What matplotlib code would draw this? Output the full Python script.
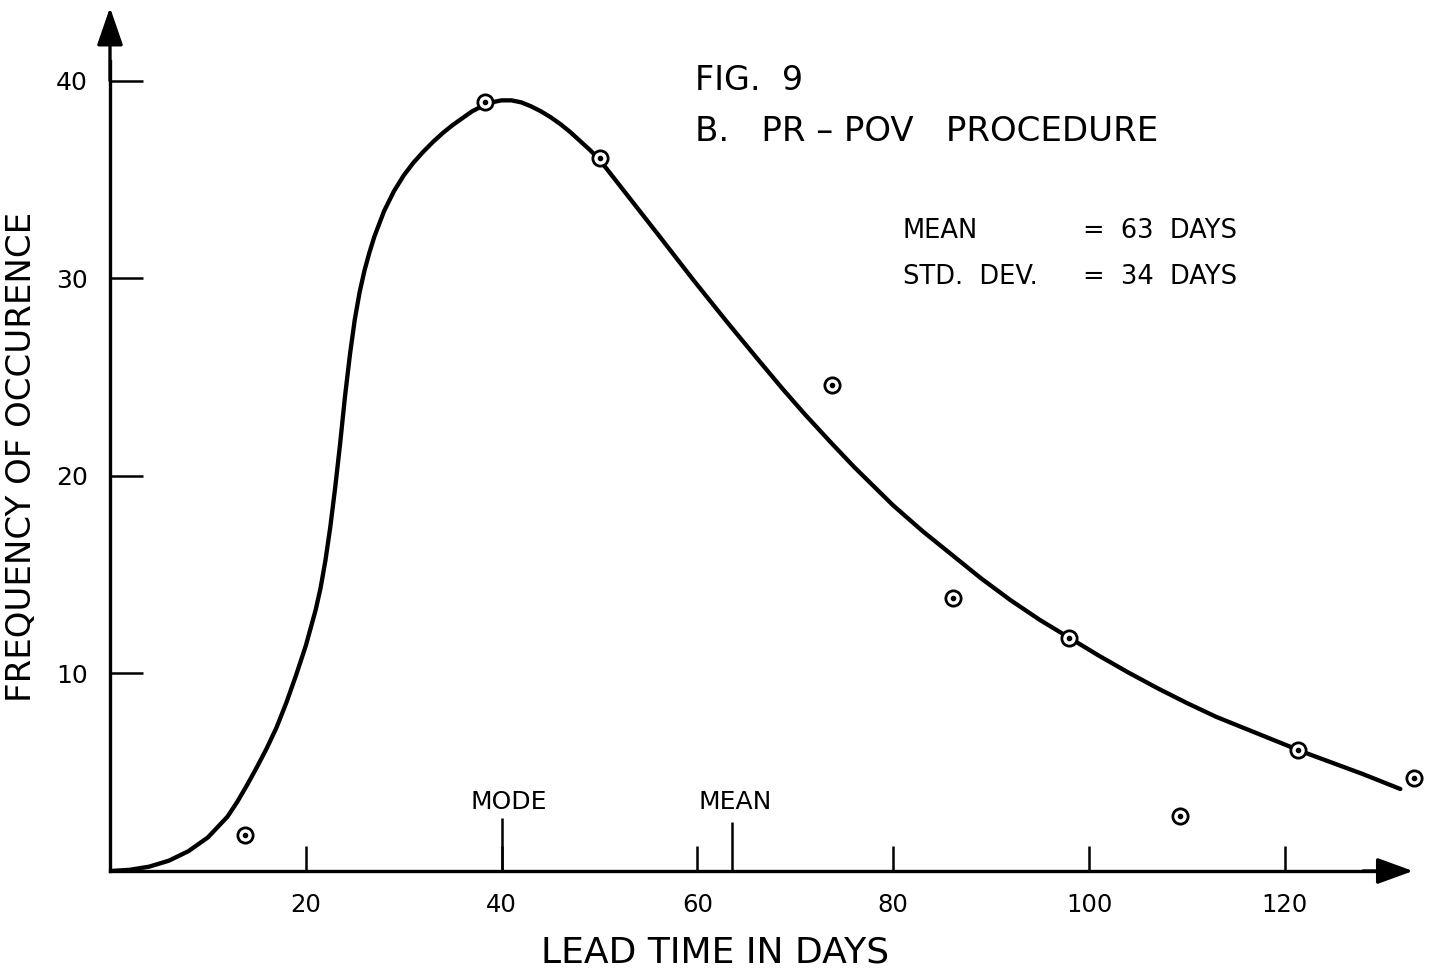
import numpy as np
import matplotlib
matplotlib.use("Agg")
import matplotlib.pyplot as plt

plt.rcParams['font.family'] = ['DejaVu Sans']

# fitted curve (lead time in days, frequency)
curve_x = [0, 2, 4, 6, 8, 10, 12, 13, 14, 15, 16, 17, 18, 19, 20, 21, 21.5, 22, 22.5,
           23, 23.5, 24, 24.5, 25, 25.5, 26, 26.5, 27, 28, 29, 30, 31, 32, 33, 34, 35,
           36, 37, 38, 39, 40, 41, 42, 43, 44, 45, 46, 47, 48, 49, 50, 53, 56, 59.6,
           63, 66, 68.7, 71, 73.7, 76, 80, 83, 86, 89, 92, 95, 98, 101, 104, 107, 110,
           113, 116, 119, 122, 125, 128, 131.8]
curve_y = [0, 0.06, 0.22, 0.52, 1.0, 1.7, 2.75, 3.5, 4.35, 5.25, 6.2, 7.25, 8.5, 9.9, 11.4,
           13.2, 14.3, 15.7, 17.4, 19.4, 21.6, 24.0, 26.1, 27.9, 29.3, 30.4, 31.3, 32.1,
           33.4, 34.4, 35.2, 35.85, 36.4, 36.9, 37.35, 37.75, 38.1, 38.45, 38.7, 38.9,
           39.0, 39.0, 38.9, 38.7, 38.45, 38.15, 37.8, 37.4, 36.95, 36.5, 36.0, 34.1, 32.2,
           29.9, 27.8, 26.0, 24.4, 23.1, 21.65, 20.45, 18.5, 17.2, 16.0, 14.8, 13.7, 12.7,
           11.8, 10.9, 10.05, 9.25, 8.5, 7.8, 7.2, 6.6, 6.0, 5.45, 4.9, 4.15]

# observed frequencies
obs_x = [13.8, 38.3, 50.0, 73.7, 86.1, 98.0, 109.3, 121.3, 133.2]
obs_y = [1.8, 38.9, 36.1, 24.6, 13.8, 11.8, 2.8, 6.1, 4.7]

xticks = [20, 40, 60, 80, 100, 120]
yticks = [10, 20, 30, 40]
mode_day = 40
mean_day = 63.5
stats = [('MEAN', '=  63  DAYS'), ('STD.  DEV.', '=  34  DAYS')]

fig = plt.figure(figsize=(14.36, 9.72), dpi=100)
ax = fig.add_axes([0.0766, 0.1039, 0.9272, 0.8945])
ax.set_xlim(0, 136)
ax.set_ylim(0, 44)

for s in ['top', 'right']:
    ax.spines[s].set_visible(False)
for s in ['left', 'bottom']:
    ax.spines[s].set_linewidth(2.4)
ax.spines['bottom'].set_bounds(0, 131)
ax.spines['left'].set_bounds(0, 41)

# arrow heads on the axes
ax.annotate('', xy=(133.1, 0), xytext=(128, 0), annotation_clip=False,
            arrowprops=dict(arrowstyle='-|>,head_length=0.55,head_width=0.2',
                            mutation_scale=40, color='k', lw=2.4, shrinkA=0, shrinkB=0))
ax.annotate('', xy=(0, 43.7), xytext=(0, 40), annotation_clip=False,
            arrowprops=dict(arrowstyle='-|>,head_length=0.58,head_width=0.2',
                            mutation_scale=40, color='k', lw=2.4, shrinkA=0, shrinkB=0))

ax.set_xticks(xticks)
ax.set_yticks(yticks)
ax.tick_params(axis='x', direction='in', length=18, width=1.8, pad=16, labelsize=17.5)
ax.tick_params(axis='y', direction='in', length=24, width=1.8, pad=16, labelsize=18)

# mode / mean markers
ax.vlines([mode_day, mean_day], 0, [2.7, 2.5], colors='k', lw=1.8)
ax.text(mode_day + 0.7, 3.5, 'MODE', ha='center', va='center', fontsize=18)
ax.text(mean_day + 0.4, 3.5, 'MEAN', ha='center', va='center', fontsize=18)

ax.plot(curve_x, curve_y, color='k', lw=3.1, solid_capstyle='round',
        solid_joinstyle='round', zorder=2)
ax.plot(obs_x, obs_y, 'o', ms=11, mfc='white', mec='k', mew=2.0, clip_on=False, zorder=3)
ax.plot(obs_x, obs_y, 'o', ms=3, color='k', clip_on=False, zorder=4)

ax.text(59.8, 40.0, 'FIG.  9', fontsize=24, va='center')
ax.text(59.8, 37.4, 'B.   PR – POV   PROCEDURE', fontsize=24.5, va='center')
for i, (lbl, val) in enumerate(stats):
    yy = 32.4 - i * 2.35
    ax.text(81.0, yy, lbl, fontsize=18.5, va='center')
    ax.text(99.4, yy, val, fontsize=18.5, va='center')

fig.text(22 / 1436, 1 - 457 / 972, 'FREQUENCY OF OCCURENCE', rotation=90,
         ha='center', va='center', fontsize=24.5)
fig.text(715 / 1436, 1 - 952 / 972, 'LEAD TIME IN DAYS', ha='center', va='center',
         fontsize=26)

fig.savefig('out.png', dpi=100)
